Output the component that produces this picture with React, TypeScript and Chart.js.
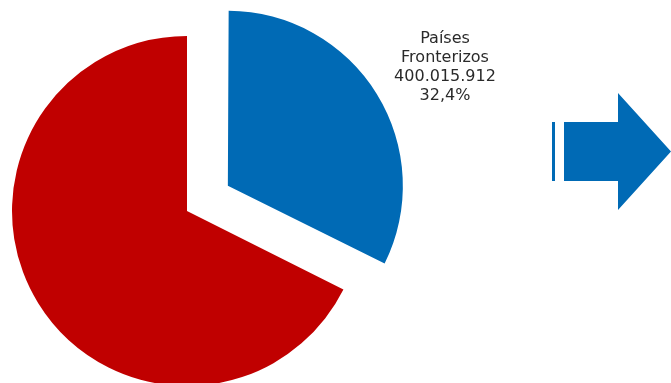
import React, { useEffect, useRef } from "react";
import { Chart, registerables } from "chart.js";

Chart.register(...registerables);

const categories = ["Países Fronterizos", "Resto"];
const labelLines = [["Países", "Fronterizos"], []];
const values = [400015912, 834600000];
const colors = ["#006AB5", "#C00000"];
// Chart.js moves an exploded arc by offset/4: 192 gives ~48px
const offsets = [192, 0];

function fmtInt(n: number) {
  return Math.round(n).toString().replace(/\B(?=(\d{3})+(?!\d))/g, ".");
}

// Chart.js also grows an exploded arc's radius by offset/4*fix; undo that so
// the exploded slice keeps the same radius as the rest of the pie.
const radiusFixPlugin = {
  id: "radiusFix",
  afterDatasetUpdate(chart: any, args: any) {
    const meta = chart.getDatasetMeta(args.index);
    meta.data.forEach((arc: any, i: number) => {
      const off = (offsets[i] || 0) / 4;
      if (!off) return;
      const circ = arc.circumference;
      const fix = 1 - Math.sin(Math.min(Math.PI, circ || 0));
      arc.outerRadius = arc.outerRadius - off * fix;
    });
  },
};

const labelPlugin = {
  id: "sliceLabel",
  afterDatasetsDraw(chart: any) {
    const meta = chart.getDatasetMeta(0);
    const total = values.reduce((a, b) => a + b, 0);
    const ctx = chart.ctx;
    const arc = meta.data[0];
    if (!arc) return;
    const lines = [
      ...labelLines[0],
      fmtInt(values[0]),
      ((values[0] / total) * 100).toFixed(1).replace(".", ",") + "%",
    ];
    const x = arc.x + 258;
    const y0 = arc.y - 168;
    ctx.save();
    ctx.fillStyle = "#2a2a2a";
    ctx.font = "16px 'DejaVu Sans'";
    ctx.textAlign = "center";
    ctx.textBaseline = "alphabetic";
    lines.forEach((l, i) => ctx.fillText(l, x, y0 + i * 19));
    ctx.restore();
  },
  afterDraw(chart: any) {
    const ctx = chart.ctx;
    ctx.save();
    ctx.fillStyle = colors[0];
    ctx.fillRect(552, 122, 3, 59);
    ctx.beginPath();
    ctx.moveTo(564, 122);
    ctx.lineTo(618, 122);
    ctx.lineTo(618, 93);
    ctx.lineTo(671, 151.5);
    ctx.lineTo(618, 210);
    ctx.lineTo(618, 181);
    ctx.lineTo(564, 181);
    ctx.closePath();
    ctx.fill();
    ctx.restore();
  },
};

export default function App() {
  const ref = useRef<HTMLCanvasElement | null>(null);
  useEffect(() => {
    if (!ref.current) return;
    const chart = new Chart(ref.current, {
      type: "pie",
      data: {
        labels: categories,
        datasets: [
          {
            data: values,
            backgroundColor: colors,
            borderWidth: 0,
            offset: offsets,
            clip: false,
          } as any,
        ],
      },
      options: {
        responsive: false,
        animation: false,
        radius: 175,
        layout: { padding: { left: 0, right: 297, top: 39, bottom: 0 } },
        plugins: { legend: { display: false }, tooltip: { enabled: false } },
      } as any,
      plugins: [radiusFixPlugin, labelPlugin],
    });
    return () => chart.destroy();
  }, []);
  return (
    <div style={{ position: "absolute", left: 0, top: 0, width: 671, height: 383, background: "#fff" }}>
      <canvas ref={ref} width={671} height={383} />
    </div>
  );
}
